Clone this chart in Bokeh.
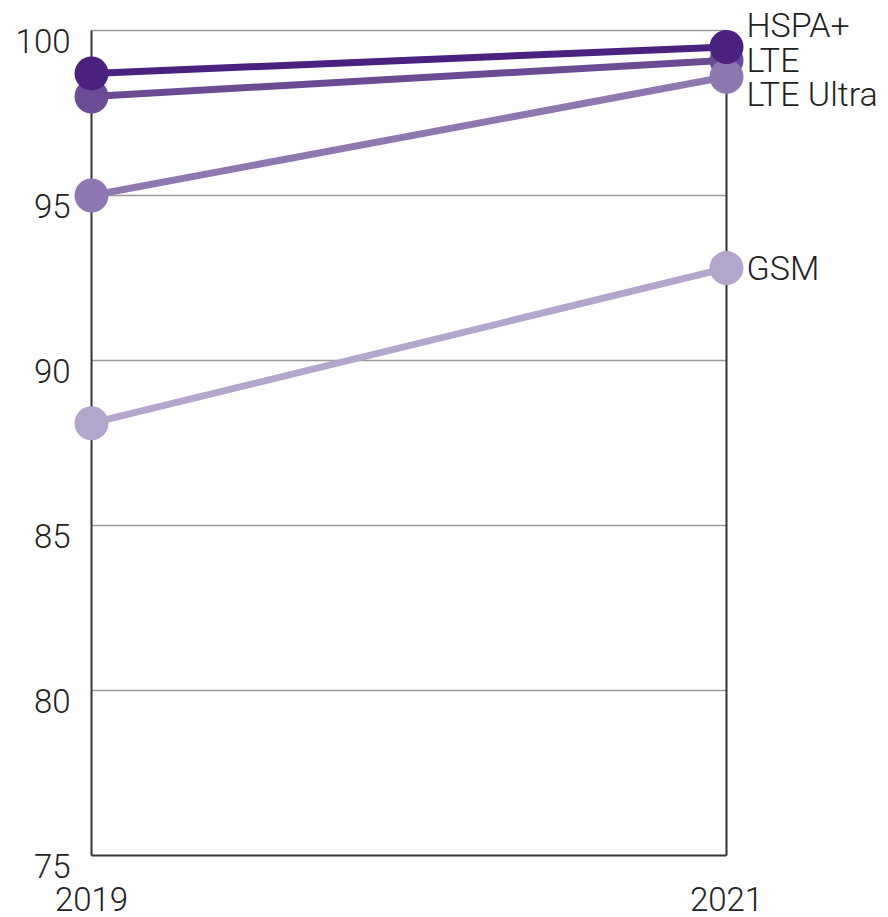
from bokeh.plotting import figure
from bokeh.models import Range1d, ColumnDataSource, LabelSet
from bokeh.core.properties import value
from bokeh.embed import file_html
from bokeh.resources import INLINE

# ---- data ----
years = [2019, 2021]
year_labels = ["2019", "2021"]
series_names = ["HSPA+", "LTE", "LTE Ultra", "GSM"]
hspa = [98.7, 99.5]
lte = [98.0, 99.1]
lte_ultra = [95.0, 98.6]
gsm = [88.1, 92.8]
y_ticks = [75, 80, 85, 90, 95, 100]
y_tick_labels = ["75", "80", "85", "90", "95", "100"]

# ---- styles / layout ----
colors = {"HSPA+": "#4b2180", "LTE": "#6a4b94", "LTE Ultra": "#8f78b2", "GSM": "#b3a6cc"}
label_dy = {"HSPA+": 22, "LTE": 0, "LTE Ultra": -17, "GSM": 0}
values = {"HSPA+": hspa, "LTE": lte, "LTE Ultra": lte_ultra, "GSM": gsm}
FONT = value("'Roboto Light', Roboto, sans-serif")
FS = value("33px")
FS_SERIES = value("34px")
TXT = "#222222"

W, H = 888, 917
left_px, right_px, top_px, bottom_px = 91, 162, 30, 62
px_per_x = (W - left_px - right_px) / (years[-1] - years[0])
px_per_y = (H - top_px - bottom_px) / (y_ticks[-1] - y_ticks[0])
x_range = Range1d(years[0] - left_px / px_per_x, years[-1] + right_px / px_per_x)
y_range = Range1d(y_ticks[0] - bottom_px / px_per_y, y_ticks[-1] + top_px / px_per_y)

p = figure(width=W, height=H, x_range=x_range, y_range=y_range,
           x_axis_location=None, y_axis_location=None, min_border=0,
           output_backend="svg", toolbar_location=None)
p.grid.visible = False
p.outline_line_color = None
p.background_fill_color = "white"

# gridlines (gray) between the two years
grid_y = y_ticks[1:]
p.segment(x0=[years[0]] * len(grid_y), x1=[years[-1]] * len(grid_y),
          y0=grid_y, y1=grid_y, line_color="#9a9a9a", line_width=1.5)
# dark frame: verticals at years, bottom baseline
p.segment(x0=years, x1=years, y0=[y_ticks[0]] * 2, y1=[y_ticks[-1]] * 2,
          line_color="#333333", line_width=2)
p.segment(x0=[years[0]], x1=[years[-1]], y0=[y_ticks[0]], y1=[y_ticks[0]],
          line_color="#333333", line_width=2)

draw_order = ["GSM", "LTE", "LTE Ultra", "HSPA+"]
for name in draw_order:
    p.line(years, values[name], line_color=colors[name], line_width=7)
    p.scatter(years, values[name], size=34, fill_color=colors[name], line_color=None)

# series labels at right
for n in series_names:
    s = ColumnDataSource(dict(x=[years[-1]], y=[values[n][-1]], t=[n]))
    p.add_layout(LabelSet(x="x", y="y", text="t", source=s, x_offset=20, y_offset=label_dy[n],
                          text_font=FONT, text_font_size=FS_SERIES, text_color=TXT,
                          text_align="left", text_baseline="middle"))

# y tick labels
ysrc = ColumnDataSource(dict(x=[years[0]] * len(y_ticks), y=y_ticks, t=y_tick_labels))
p.add_layout(LabelSet(x="x", y="y", text="t", source=ysrc, x_offset=-21, y_offset=2,
                      text_font=FONT, text_font_size=FS, text_color=TXT,
                      text_align="right", text_baseline="top"))

# x tick labels
xsrc = ColumnDataSource(dict(x=years, y=[y_ticks[0]] * len(years), t=year_labels))
p.add_layout(LabelSet(x="x", y="y", text="t", source=xsrc, x_offset=0, y_offset=-31,
                      text_font=FONT, text_font_size=FS, text_color=TXT,
                      text_align="center", text_baseline="top"))

open("out.html", "w").write(file_html(p, INLINE))
